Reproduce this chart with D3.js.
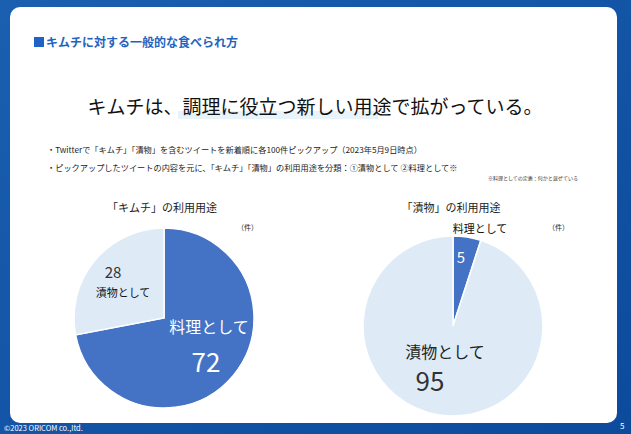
<!DOCTYPE html>
<html><head><meta charset="utf-8">
<script src="https://cdn.jsdelivr.net/npm/d3@7"></script>
<style>body{margin:0;}svg{display:block;font-family:"Noto Sans CJK JP",sans-serif;}</style>
</head><body>
<script>
// chart data
let charts = ["「キムチ」の利用用途", "「漬物」の利用用途"];
let usages = ["料理として", "漬物として"];
let kimchiValues = [72, 28];
let tsukemonoValues = [5, 95];

let svg = d3.select("body").append("svg")
	.attr("width", 631)
	.attr("height", 434);

//background
let grad = svg.append("defs").append("linearGradient").attr("id", "bg")
	.attr("x1", 0).attr("y1", 0).attr("x2", 1).attr("y2", 1);
grad.append("stop").attr("offset", 0).attr("stop-color", "#1a5fb0");
grad.append("stop").attr("offset", 1).attr("stop-color", "#0c4a9c");
svg.append("rect").attr("width", 631).attr("height", 434).attr("fill", "url(#bg)");
svg.append("rect").attr("x", 10).attr("y", 7).attr("width", 607).attr("height", 416)
	.attr("rx", 10).attr("fill", "white");

svg.append("text").attr("x", 4).attr("y", 431).attr("font-size", 7.5).attr("fill", "white").text("©2023 ORICOM co.,ltd.");
svg.append("text").attr("x", 620).attr("y", 429).attr("font-size", 8).attr("fill", "white").text("5");

//headings
svg.append("rect").attr("x", 34).attr("y", 37).attr("width", 10).attr("height", 10).attr("fill", "#1f63c6");
svg.append("text").attr("x", 46).attr("y", 47).attr("font-size", 12).attr("font-weight", "bold")
	.attr("fill", "#2363c0").text("キムチに対する一般的な食べられ方");

svg.append("rect").attr("x", 178).attr("y", 111).attr("width", 200).attr("height", 8).attr("fill", "#e8f3fa");
svg.append("text").attr("x", 315).attr("y", 114).attr("text-anchor", "middle").attr("font-size", 19)
	.attr("fill", "#111").text("キムチは、調理に役立つ新しい用途で拡がっている。");

svg.append("text").attr("x", 47).attr("y", 153).attr("font-size", 8.2).attr("fill", "#222")
	.text("・Twitterで「キムチ」「漬物」を含むツイートを新着順に各100件ピックアップ（2023年5月9日時点）");
svg.append("text").attr("x", 47).attr("y", 171).attr("font-size", 8.2).attr("fill", "#222")
	.text("・ピックアップしたツイートの内容を元に、「キムチ」「漬物」の利用用途を分類：①漬物として ②料理として※");
svg.append("text").attr("x", 578).attr("y", 180).attr("text-anchor", "end").attr("font-size", 5).attr("fill", "#333")
	.text("※料理としての定義：何かと混ぜている");

let pie = d3.pie().sort(null).value(d => d);
let arc = d3.arc().innerRadius(0).outerRadius(90);
let color = d3.scaleOrdinal().domain(usages).range(["#4472c4", "#deebf7"]);

function drawPie(cx, cy, title, values, tx) {
	svg.append("text").attr("x", tx).attr("y", 212).attr("text-anchor", "middle")
		.attr("font-size", 11).attr("fill", "#222").text(title);
	let g = svg.append("g").attr("transform", `translate(${cx},${cy})`);
	g.selectAll("path").data(pie(values)).enter().append("path")
		.attr("d", arc)
		.attr("fill", (d, i) => color(usages[i]))
		.attr("stroke", "white").attr("stroke-width", 1.5);
	return g;
}

let g1 = drawPie(164, 318, charts[0], kimchiValues, 162);
svg.append("text").attr("x", 237).attr("y", 230).attr("font-size", 7).attr("fill", "#222").text("（件）");
g1.append("text").attr("x", 45).attr("y", 15).attr("text-anchor", "middle").attr("font-size", 16).attr("fill", "white").text(usages[0]);
g1.append("text").attr("x", 42).attr("y", 54).attr("text-anchor", "middle").attr("font-size", 26).attr("fill", "white").text(kimchiValues[0]);
g1.append("text").attr("x", -51).attr("y", -40).attr("text-anchor", "middle").attr("font-size", 15).attr("fill", "#333").text(kimchiValues[1]);
g1.append("text").attr("x", -41).attr("y", -21).attr("text-anchor", "middle").attr("font-size", 11).attr("fill", "#111").text(usages[1]);

let g2 = drawPie(453, 326, charts[1], tsukemonoValues, 451);
svg.append("text").attr("x", 548).attr("y", 230).attr("font-size", 7).attr("fill", "#222").text("（件）");
g2.append("text").attr("x", 27).attr("y", -93).attr("text-anchor", "middle").attr("font-size", 11).attr("fill", "#111").text(usages[0]);
g2.append("text").attr("x", 8).attr("y", -63).attr("text-anchor", "middle").attr("font-size", 15).attr("fill", "white").text(tsukemonoValues[0]);
g2.append("text").attr("x", -8).attr("y", 32).attr("text-anchor", "middle").attr("font-size", 16).attr("fill", "#222").text(usages[1]);
g2.append("text").attr("x", -23).attr("y", 65).attr("text-anchor", "middle").attr("font-size", 26).attr("fill", "#333").text(tsukemonoValues[1]);
</script>
</body></html>
